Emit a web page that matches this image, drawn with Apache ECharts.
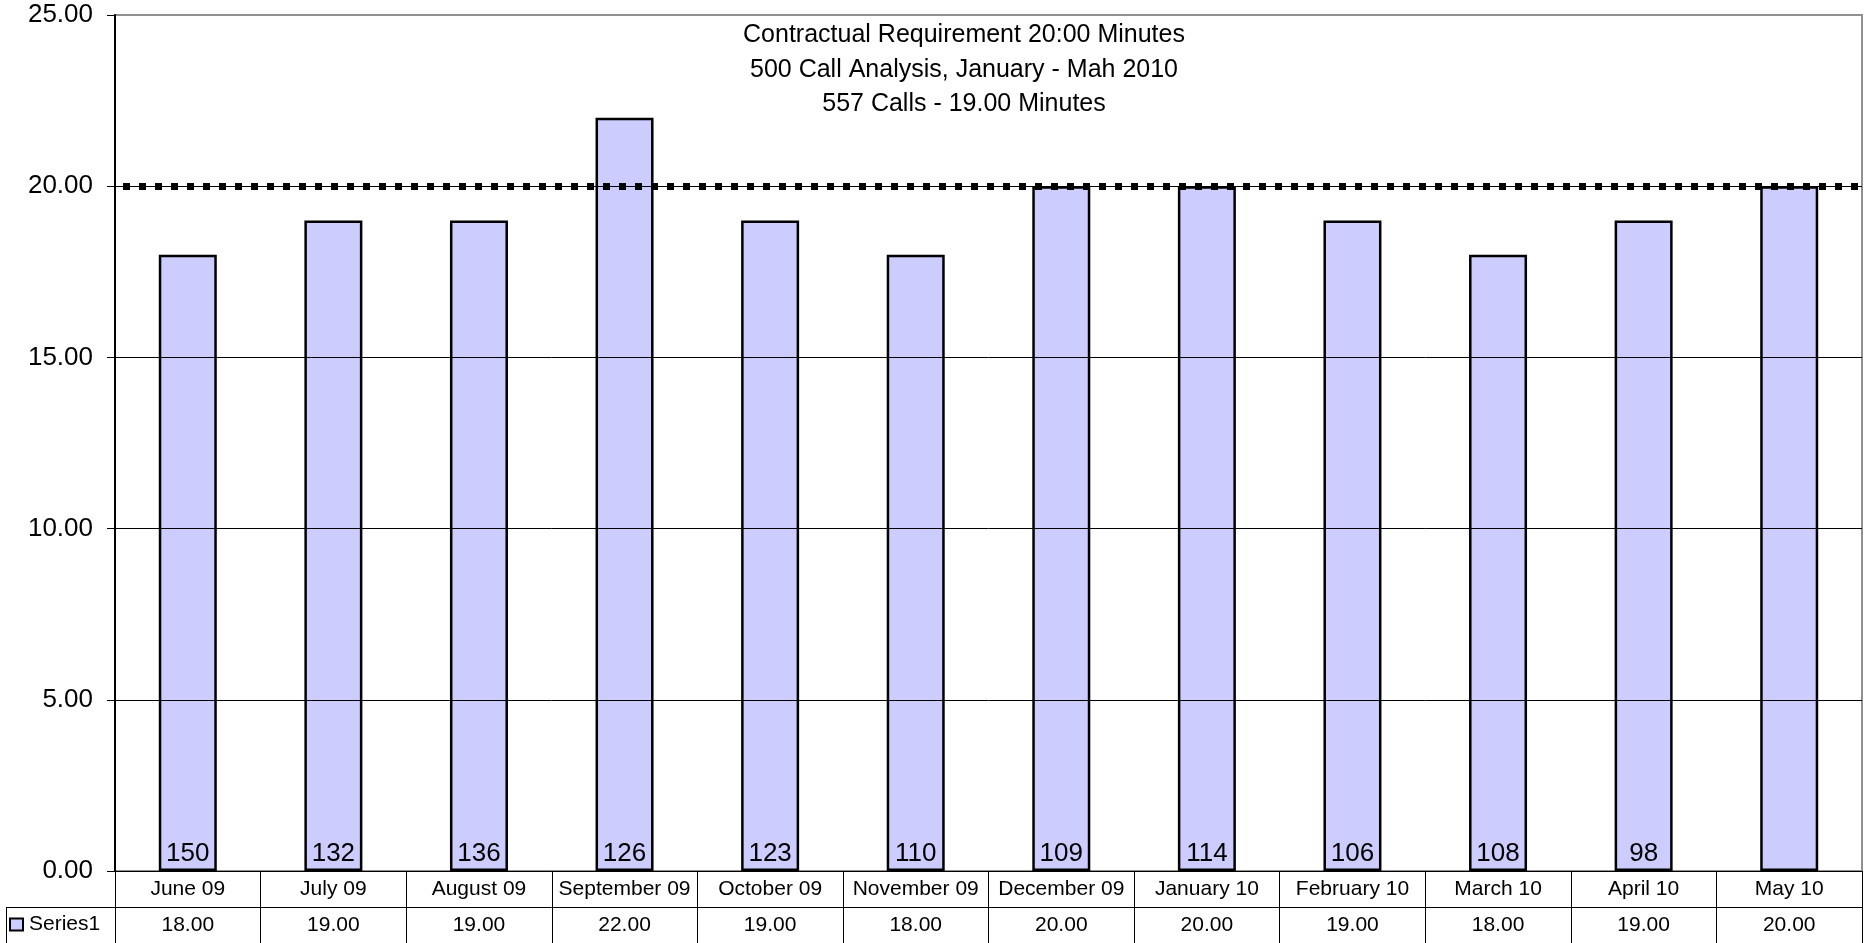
<!DOCTYPE html>
<html>
<head>
<meta charset="utf-8">
<script src="https://cdn.jsdelivr.net/npm/echarts@6/dist/echarts.min.js"></script>
<style>
html,body{margin:0;padding:0;background:#fff;}
#chart{width:1865px;height:943px;}
</style>
</head>
<body>
<div id="chart"></div>
<script>
const categories = ['June 09','July 09','August 09','September 09','October 09','November 09','December 09','January 10','February 10','March 10','April 10','May 10'];
const minutes = [18,19,19,22,19,18,20,20,19,18,19,20];
const calls = [150,132,136,126,123,110,109,114,106,108,98,null];
const requirement = 20;
const yTicks = [0,5,10,15,20,25];
const titleLines = ['Contractual Requirement 20:00 Minutes','500 Call Analysis, January - Mah 2010','557 Calls - 19.00 Minutes'];
const seriesName = 'Series1';

const FONT = 'Arial, "Liberation Sans", sans-serif';
const chart = echarts.init(document.getElementById('chart'), null, {renderer:'canvas'});

const option = {
  animation: false,
  backgroundColor: '#fff',
  textStyle: {fontFamily: FONT},
  grid: {left:115, right:3, top:15, bottom:72, show:true, borderColor:'#909090', borderWidth:2, backgroundColor:'transparent'},
  legend: {
    data:[seriesName], left:9, top:914, padding:0, itemWidth:13, itemHeight:12, itemGap:10,
    icon:'rect',
    itemStyle:{color:'#CCCCFF', borderColor:'#000', borderWidth:2},
    textStyle:{fontFamily:FONT, fontSize:21, color:'#000', padding:[0,0,0,1]}
  },
  xAxis: [
    {
      type:'category', data:categories, position:'bottom', z:5,
      axisLine:{show:true, lineStyle:{color:'#000', width:1}},
      axisTick:{show:true, interval:0, length:72, lineStyle:{color:'#000', width:1}},
      axisLabel:{interval:0, margin:8, fontSize:21, color:'#000', fontFamily:FONT},
      splitLine:{show:false}
    },
    {
      type:'category', data:categories, position:'bottom', offset:36, z:5,
      axisLine:{show:true, lineStyle:{color:'#000', width:1}},
      axisTick:{show:false},
      axisLabel:{interval:0, margin:8, fontSize:21, color:'#000', fontFamily:FONT,
        formatter:(v, i) => minutes[i].toFixed(2)},
      splitLine:{show:false}
    }
  ],
  yAxis: {
    type:'value', min:yTicks[0], max:yTicks[yTicks.length-1], interval:5, z:5,
    axisLine:{show:true, lineStyle:{color:'#000', width:2}},
    axisTick:{show:true, length:8, lineStyle:{color:'#000', width:1}},
    axisLabel:{fontSize:26, color:'#000', margin:22, fontFamily:FONT, formatter:v => v.toFixed(2)},
    splitLine:{show:true, lineStyle:{color:['#000','#000','#000','#000','#000','#909090'], width:1}}
  },
  series: [{
    name: seriesName,
    type: 'bar',
    xAxisIndex: 0,
    data: minutes,
    barWidth: 58,
    z: 3,
    itemStyle: {color:'#CCCCFF', borderColor:'#000', borderWidth:2.5},
    label: {
      show:true, position:'insideBottom', distance:4, fontSize:26, color:'#000', fontFamily:FONT,
      formatter: p => (calls[p.dataIndex] == null ? '' : String(calls[p.dataIndex]))
    },
    markLine: {
      silent:true, symbol:'none', z:6,
      label:{show:false},
      lineStyle:{color:'#000', width:7, type:[7,9], dashOffset:8},
      data:[{yAxis: requirement}]
    }
  }],
  graphic: [
    {type:'text', x:964, y:18, z:10, style:{text:titleLines.join('\n'), font:'25px ' + FONT, lineHeight:34.5, align:'center', verticalAlign:'top', fill:'#000'}},
    {type:'line', z:10, shape:{x1:6, y1:907.5, x2:115, y2:907.5}, style:{stroke:'#000', lineWidth:1}},
    {type:'line', z:10, shape:{x1:6.5, y1:907, x2:6.5, y2:943}, style:{stroke:'#000', lineWidth:1}}
  ]
};
chart.setOption(option);
</script>
</body>
</html>
